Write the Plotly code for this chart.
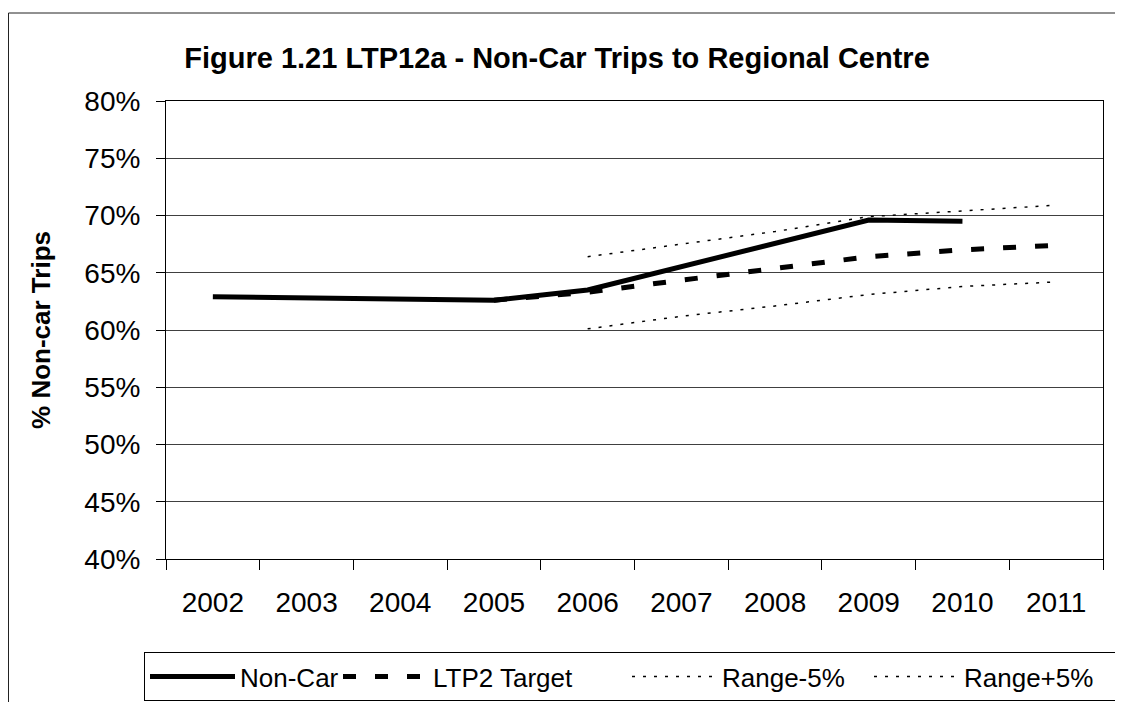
import plotly.graph_objects as go

years = ["2002", "2003", "2004", "2005", "2006", "2007", "2008", "2009", "2010", "2011"]
non_car = [62.9, 62.8, 62.7, 62.6, 63.5, 65.5, 67.6, 69.6, 69.5, None]
ltp2_target = [None, None, None, 62.6, 63.3, 64.35, 65.4, 66.4, 67.0, 67.4]
range_minus = [None, None, None, None, 60.1, 61.2, 62.1, 63.1, 63.8, 64.2]
range_plus = [None, None, None, None, 66.4, 67.5, 68.6, 69.9, 70.4, 70.9]
y_ticks = [40, 45, 50, 55, 60, 65, 70, 75, 80]
y_tick_labels = [f"{v}%" for v in y_ticks]

FONT = "Liberation Sans, Arial, sans-serif"

fig = go.Figure()
fig.add_trace(go.Scatter(x=years, y=non_car, name="Non-Car", mode="lines",
                         legendwidth=93,
                         line=dict(color="black", width=5)))
fig.add_trace(go.Scatter(x=years, y=ltp2_target, name="LTP2 Target", mode="lines",
                         legendwidth=189,
                         line=dict(color="black", width=5, dash="13px,19px")))
fig.add_trace(go.Scatter(x=years, y=range_minus, name="Range-5%", mode="lines",
                         legendwidth=142,
                         line=dict(color="black", width=1.5, dash="3px,8px")))
fig.add_trace(go.Scatter(x=years, y=range_plus, name="Range+5%", mode="lines",
                         legendwidth=154,
                         line=dict(color="black", width=1.5, dash="3px,8px")))

# page body adds an 8px offset, so the figure is drawn 8px smaller
W, H = 1115, 694
L, R, T, B = 158, 20, 93, 143
pw = W - L - R
ph = H - T - B

fig.update_layout(
    width=W, height=H,
    margin=dict(l=L, r=R, t=T, b=B, autoexpand=False),
    paper_bgcolor="white", plot_bgcolor="white",
    font=dict(family=FONT, color="black"),
    title=dict(text="<b>Figure 1.21 LTP12a - Non-Car Trips to Regional Centre</b>",
               x=549 / W, xanchor="center", xref="container",
               y=1 - 50 / H, yanchor="middle", yref="container",
               font=dict(size=29, family=FONT, color="black")),
    showlegend=True,
    legend=dict(orientation="h",
                x=(136 - L) / pw, xanchor="left",
                y=(H - B - 644) / ph, yanchor="top",
                bordercolor="black", borderwidth=1, bgcolor="white",
                font=dict(size=26, family=FONT, color="black"),
                itemwidth=85, tracegroupgap=0),
    shapes=[dict(type="rect", xref="paper", yref="paper",
                 x0=(0.5 - L) / pw, x1=1.2, y0=-0.5, y1=(H - B - 5) / ph,
                 line=dict(color="#222222", width=1), fillcolor="rgba(0,0,0,0)",
                 layer="below")],
)

fig.update_xaxes(type="category", range=[-0.5, 9.5], tickson="boundaries",
                 ticks="outside", ticklen=10, tickcolor="black",
                 showline=True, linecolor="black", linewidth=1, mirror=True,
                 showgrid=False, ticklabelstandoff=18, automargin=False,
                 tickfont=dict(size=28, family=FONT, color="black"))
fig.update_yaxes(range=[40, 80], tickvals=y_ticks, ticktext=y_tick_labels,
                 ticks="outside", ticklen=9, tickcolor="black",
                 showline=True, linecolor="black", linewidth=1, mirror=True,
                 showgrid=True, gridcolor="#404040", gridwidth=1,
                 zeroline=False, ticklabelstandoff=10, automargin=False,
                 tickfont=dict(size=28, family=FONT, color="black"),
                 title=dict(text="<b>% Non-car Trips</b>", standoff=26,
                            font=dict(size=26, family=FONT, color="black")))

fig.write_html("out.html")
